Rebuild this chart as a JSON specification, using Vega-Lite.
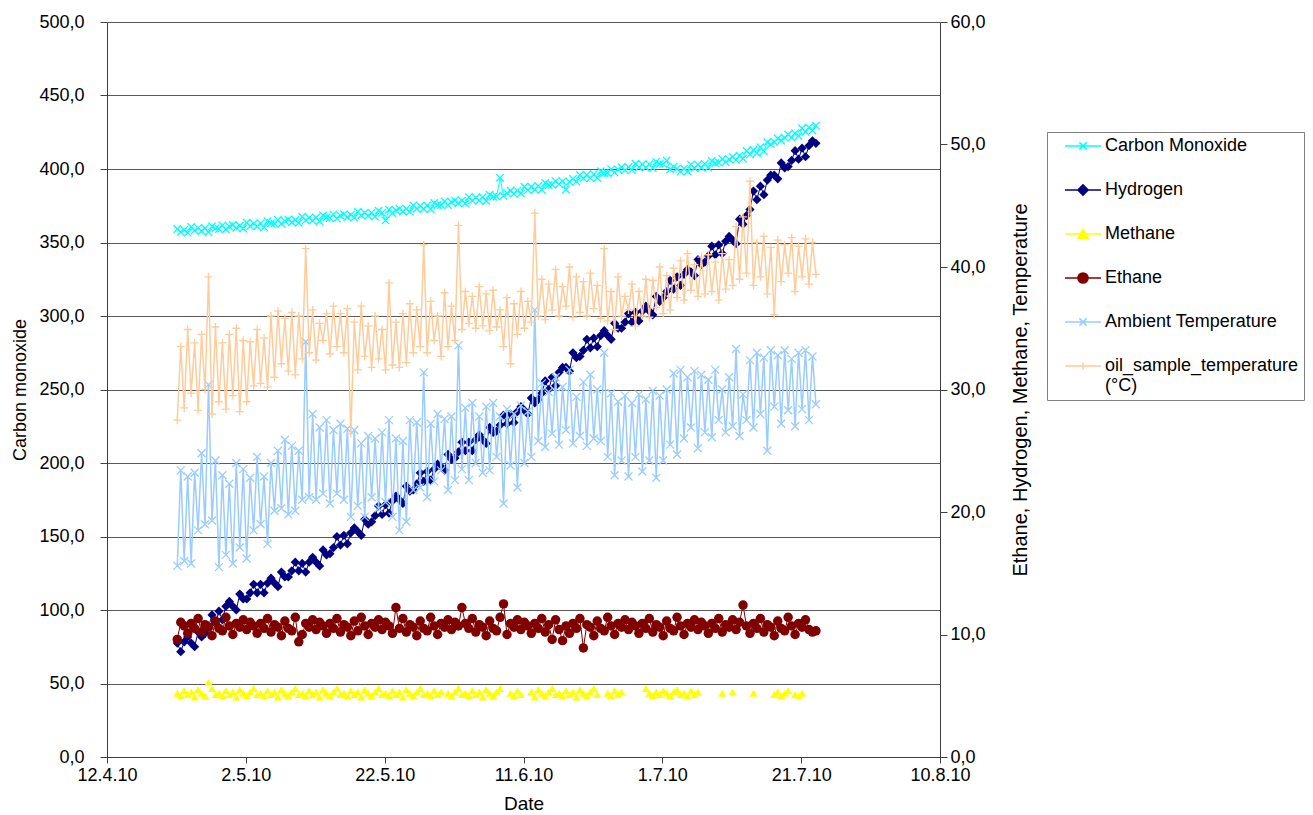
{
"$schema":"https://vega.github.io/schema/vega-lite/v6.json",
"width":833,"height":735,
"autosize":{"type":"none"},
"padding":{"left":107,"top":22,"right":373,"bottom":58},
"background":"white",
"config":{"view":{"stroke":null},"font":"Liberation Sans",
"axis":{"labelFont":"Liberation Sans","titleFont":"Liberation Sans","labelColor":"#000","titleColor":"#000","titleFontWeight":"normal","domainColor":"#404040","tickColor":"#404040"}},
"data":{"values":[
{"t":"2010-04-22T03:00","c":359.2,"h":9.3,"m":5.2,"e":9.6,"a":15.6,"o":27.5},
{"t":"2010-04-22T15:00","c":357.2,"h":8.6,"m":5.0,"e":11.0,"a":23.4,"o":33.5},
{"t":"2010-04-23T03:00","c":358.6,"h":9.4,"m":5.4,"e":10.7,"a":16.0,"o":28.5},
{"t":"2010-04-23T15:00","c":356.7,"h":9.8,"m":5.1,"e":10.1,"a":22.9,"o":34.9},
{"t":"2010-04-24T03:00","c":360.6,"h":9.3,"m":5.3,"e":10.9,"a":15.8,"o":29.7},
{"t":"2010-04-24T15:00","c":358.2,"h":9.0,"m":4.9,"e":10.5,"a":23.2,"o":33.8},
{"t":"2010-04-25T03:00","c":359.8,"h":10.2,"m":5.5,"e":11.3,"a":18.5,"o":28.3},
{"t":"2010-04-25T15:00","c":357.8,"h":9.8,"m":5.2,"e":10.2,"a":24.8,"o":34.5},
{"t":"2010-04-26T03:00","c":359.7,"h":10.1,"m":5.0,"e":10.8,"a":19.0,"o":30.0},
{"t":"2010-04-26T15:00","c":357.1,"h":10.6,"m":6.1,"e":10.6,"a":30.4,"o":39.2},
{"t":"2010-04-27T03:00","c":361.0,"h":11.6,"m":5.6,"e":9.9,"a":19.3,"o":28.0},
{"t":"2010-04-27T15:00","c":359.6,"h":10.9,"m":5.1,"e":11.1,"a":24.2,"o":35.1},
{"t":"2010-04-28T03:00","c":359.2,"h":11.9,"m":5.2,"e":10.5,"a":15.5,"o":29.0},
{"t":"2010-04-28T15:00","c":361.7,"h":11.2,"m":5.0,"e":10.3,"a":23.0,"o":33.8},
{"t":"2010-04-29T03:00","c":359.0,"h":12.3,"m":5.4,"e":11.4,"a":16.5,"o":28.4},
{"t":"2010-04-29T15:00","c":360.9,"h":12.7,"m":5.1,"e":10.7,"a":22.3,"o":34.5},
{"t":"2010-04-30T03:00","c":361.9,"h":12.3,"m":5.3,"e":10.0,"a":15.8,"o":29.5},
{"t":"2010-04-30T15:00","c":359.9,"h":12.0,"m":4.9,"e":10.9,"a":24.0,"o":35.0},
{"t":"2010-05-01T03:00","c":361.4,"h":13.3,"m":5.5,"e":10.6,"a":17.1,"o":28.2},
{"t":"2010-05-01T15:00","c":359.5,"h":12.9,"m":5.2,"e":11.2,"a":23.5,"o":34.0},
{"t":"2010-05-02T03:00","c":363.5,"h":12.9,"m":5.0,"e":10.4,"a":16.2,"o":29.0},
{"t":"2010-05-02T15:00","c":361.1,"h":13.4,"m":5.3,"e":11.0,"a":22.8,"o":33.9},
{"t":"2010-05-03T03:00","c":362.9,"h":14.1,"m":5.6,"e":10.7,"a":18.5,"o":30.3},
{"t":"2010-05-03T15:00","c":360.9,"h":13.4,"m":5.1,"e":10.1,"a":24.5,"o":34.9},
{"t":"2010-05-04T03:00","c":363.0,"h":14.1,"m":5.2,"e":10.9,"a":19.0,"o":30.5},
{"t":"2010-05-04T15:00","c":360.4,"h":13.4,"m":5.0,"e":10.5,"a":22.9,"o":34.2},
{"t":"2010-05-05T03:00","c":364.5,"h":14.2,"m":5.4,"e":11.3,"a":17.4,"o":30.2},
{"t":"2010-05-05T15:00","c":363.1,"h":14.6,"m":5.1,"e":10.2,"a":24.0,"o":36.0},
{"t":"2010-05-06T03:00","c":362.8,"h":14.2,"m":5.3,"e":10.8,"a":20.1,"o":31.0},
{"t":"2010-05-06T15:00","c":365.3,"h":13.9,"m":4.9,"e":10.6,"a":25.0,"o":36.4},
{"t":"2010-05-07T03:00","c":362.7,"h":15.1,"m":5.5,"e":9.9,"a":20.3,"o":32.1},
{"t":"2010-05-07T15:00","c":364.6,"h":14.7,"m":5.2,"e":11.1,"a":25.9,"o":35.8},
{"t":"2010-05-08T03:00","c":365.7,"h":14.7,"m":5.0,"e":10.5,"a":19.8,"o":31.5},
{"t":"2010-05-08T15:00","c":363.7,"h":15.2,"m":5.3,"e":10.3,"a":25.4,"o":36.3},
{"t":"2010-05-09T03:00","c":365.3,"h":15.9,"m":5.6,"e":11.4,"a":20.1,"o":31.2},
{"t":"2010-05-09T15:00","c":363.4,"h":15.2,"m":5.1,"e":9.4,"a":25.0,"o":36.0},
{"t":"2010-05-10T03:00","c":367.5,"h":15.8,"m":5.2,"e":10.0,"a":21.0,"o":32.5},
{"t":"2010-05-10T15:00","c":365.1,"h":15.1,"m":5.0,"e":10.9,"a":33.9,"o":41.5},
{"t":"2010-05-11T03:00","c":366.9,"h":15.9,"m":5.4,"e":10.6,"a":21.2,"o":33.0},
{"t":"2010-05-11T15:00","c":364.9,"h":16.3,"m":5.1,"e":11.2,"a":28.0,"o":36.5},
{"t":"2010-05-12T03:00","c":367.0,"h":15.9,"m":5.3,"e":10.4,"a":21.0,"o":32.4},
{"t":"2010-05-12T15:00","c":364.4,"h":15.6,"m":4.9,"e":11.0,"a":26.9,"o":35.4},
{"t":"2010-05-13T03:00","c":368.4,"h":16.9,"m":5.5,"e":10.7,"a":21.5,"o":34.0},
{"t":"2010-05-13T15:00","c":367.0,"h":16.5,"m":5.2,"e":10.1,"a":27.5,"o":36.2},
{"t":"2010-05-14T03:00","c":366.6,"h":16.6,"m":5.0,"e":10.9,"a":20.7,"o":32.9},
{"t":"2010-05-14T15:00","c":369.1,"h":17.1,"m":5.3,"e":10.5,"a":26.7,"o":36.8},
{"t":"2010-05-15T03:00","c":366.4,"h":18.0,"m":5.6,"e":11.3,"a":21.5,"o":33.5},
{"t":"2010-05-15T15:00","c":368.3,"h":17.3,"m":5.1,"e":10.2,"a":27.2,"o":36.2},
{"t":"2010-05-16T03:00","c":369.3,"h":18.1,"m":5.2,"e":10.8,"a":21.0,"o":33.0},
{"t":"2010-05-16T15:00","c":367.3,"h":17.4,"m":5.0,"e":10.6,"a":26.8,"o":36.6},
{"t":"2010-05-17T03:00","c":368.8,"h":18.3,"m":5.4,"e":9.9,"a":19.6,"o":26.4},
{"t":"2010-05-17T15:00","c":366.9,"h":18.7,"m":5.1,"e":11.1,"a":26.7,"o":35.5},
{"t":"2010-05-18T03:00","c":370.9,"h":18.4,"m":5.3,"e":10.3,"a":20.5,"o":31.6},
{"t":"2010-05-18T15:00","c":368.5,"h":18.1,"m":4.9,"e":11.4,"a":25.6,"o":36.8},
{"t":"2010-05-19T03:00","c":370.2,"h":19.4,"m":5.5,"e":10.7,"a":19.6,"o":32.7},
{"t":"2010-05-19T15:00","c":368.2,"h":19.0,"m":5.2,"e":10.0,"a":26.2,"o":35.2},
{"t":"2010-05-20T03:00","c":370.2,"h":19.2,"m":5.0,"e":10.9,"a":21.2,"o":31.8},
{"t":"2010-05-20T15:00","c":367.6,"h":19.7,"m":5.3,"e":10.6,"a":26.0,"o":36.0},
{"t":"2010-05-21T03:00","c":371.6,"h":20.5,"m":5.6,"e":11.2,"a":20.3,"o":32.5},
{"t":"2010-05-21T15:00","c":370.2,"h":19.8,"m":5.1,"e":10.4,"a":26.5,"o":34.9},
{"t":"2010-05-22T03:00","c":365.0,"h":20.6,"m":5.2,"e":11.0,"a":20.8,"o":31.6},
{"t":"2010-05-22T15:00","c":372.3,"h":19.9,"m":5.0,"e":10.7,"a":27.5,"o":38.7},
{"t":"2010-05-23T03:00","c":369.9,"h":20.9,"m":5.4,"e":10.1,"a":19.6,"o":32.0},
{"t":"2010-05-23T15:00","c":371.8,"h":21.3,"m":5.1,"e":12.2,"a":26.0,"o":35.5},
{"t":"2010-05-24T03:00","c":373.1,"h":21.0,"m":5.3,"e":10.5,"a":18.5,"o":31.8},
{"t":"2010-05-24T15:00","c":371.1,"h":20.7,"m":4.9,"e":11.3,"a":25.8,"o":36.2},
{"t":"2010-05-25T03:00","c":372.9,"h":22.1,"m":5.5,"e":10.2,"a":19.2,"o":32.2},
{"t":"2010-05-25T15:00","c":371.0,"h":21.7,"m":5.2,"e":10.8,"a":27.5,"o":37.0},
{"t":"2010-05-26T03:00","c":375.3,"h":21.8,"m":5.0,"e":10.6,"a":21.8,"o":33.0},
{"t":"2010-05-26T15:00","c":372.9,"h":22.3,"m":5.3,"e":9.9,"a":27.3,"o":36.5},
{"t":"2010-05-27T03:00","c":374.9,"h":23.2,"m":5.6,"e":11.1,"a":22.0,"o":33.5},
{"t":"2010-05-27T15:00","c":372.9,"h":22.5,"m":5.1,"e":10.5,"a":31.4,"o":41.8},
{"t":"2010-05-28T03:00","c":375.2,"h":23.3,"m":5.2,"e":10.3,"a":21.2,"o":33.0},
{"t":"2010-05-28T15:00","c":372.6,"h":22.6,"m":5.0,"e":11.4,"a":27.2,"o":37.2},
{"t":"2010-05-29T03:00","c":376.9,"h":23.5,"m":5.4,"e":10.7,"a":22.5,"o":34.0},
{"t":"2010-05-29T15:00","c":375.5,"h":23.9,"m":5.1,"e":10.0,"a":28.0,"o":36.0},
{"t":"2010-05-30T03:00","c":375.4,"h":23.7,"m":5.3,"e":10.9,"a":23.4,"o":32.7},
{"t":"2010-05-30T15:00","c":377.9,"h":23.4,"e":10.6,"a":27.6,"o":37.9},
{"t":"2010-05-31T03:00","c":375.5,"h":24.7,"m":5.2,"e":11.2,"a":21.8,"o":33.5},
{"t":"2010-05-31T15:00","c":377.4,"h":24.3,"m":5.0,"e":10.4,"a":27.8,"o":36.8},
{"t":"2010-06-01T03:00","c":378.7,"h":24.4,"m":5.3,"e":11.0,"a":22.6,"o":34.0},
{"t":"2010-06-01T15:00","c":376.7,"h":24.9,"m":5.6,"e":10.7,"a":33.6,"o":43.4},
{"t":"2010-06-02T03:00","c":378.5,"h":25.7,"m":5.1,"e":12.2,"a":23.5,"o":34.9},
{"t":"2010-06-02T15:00","c":376.6,"h":25.0,"m":5.2,"e":10.9,"a":28.5,"o":38.0},
{"t":"2010-06-03T03:00","c":380.9,"h":25.7,"m":5.0,"e":10.5,"a":22.6,"o":35.4},
{"t":"2010-06-03T15:00","c":378.5,"h":25.0,"m":5.4,"e":11.3,"a":28.9,"o":37.6},
{"t":"2010-06-04T03:00","c":380.5,"h":25.9,"m":5.1,"e":10.2,"a":24.0,"o":35.0},
{"t":"2010-06-04T15:00","c":378.5,"h":26.3,"m":5.3,"e":10.8,"a":27.8,"o":38.4},
{"t":"2010-06-05T03:00","c":380.8,"h":25.9,"m":4.9,"e":10.6,"a":23.2,"o":35.2},
{"t":"2010-06-05T15:00","c":378.2,"h":25.6,"m":5.5,"e":9.9,"a":28.6,"o":37.8},
{"t":"2010-06-06T03:00","c":382.5,"h":26.9,"m":5.2,"e":11.1,"a":23.4,"o":34.8},
{"t":"2010-06-06T15:00","c":381.1,"h":26.5,"m":5.0,"e":10.5,"a":28.9,"o":38.1},
{"t":"2010-06-07T03:00","c":381.3,"h":26.6,"m":5.3,"e":10.3,"a":24.5,"o":35.1},
{"t":"2010-06-07T15:00","c":394.0,"h":27.1,"m":5.6,"e":11.4,"a":27.8,"o":36.5},
{"t":"2010-06-08T03:00","c":381.7,"h":27.9,"e":12.5,"a":20.7,"o":33.5},
{"t":"2010-06-08T15:00","c":383.6,"h":27.2,"e":10.0,"a":28.4,"o":37.5},
{"t":"2010-06-09T03:00","c":385.2,"h":28.0,"m":5.2,"e":10.9,"a":23.8,"o":32.1},
{"t":"2010-06-09T15:00","c":383.2,"h":27.3,"m":5.0,"e":10.6,"a":28.0,"o":37.0},
{"t":"2010-06-10T03:00","c":385.3,"h":28.2,"m":5.4,"e":11.2,"a":22.0,"o":34.5},
{"t":"2010-06-10T15:00","c":383.4,"h":28.6,"m":5.1,"e":10.4,"a":28.7,"o":38.0},
{"t":"2010-06-11T03:00","c":388.0,"h":28.3,"e":11.0,"a":24.0,"o":35.0},
{"t":"2010-06-11T15:00","c":385.6,"h":28.0,"e":10.7,"a":28.2,"o":37.2},
{"t":"2010-06-12T03:00","c":387.9,"h":29.3,"m":5.3,"e":10.1,"a":24.5,"o":35.5},
{"t":"2010-06-12T15:00","c":385.9,"h":28.9,"m":4.9,"e":10.9,"a":36.5,"o":44.4},
{"t":"2010-06-13T03:00","c":388.5,"h":29.2,"m":5.5,"e":10.5,"a":25.8,"o":36.0},
{"t":"2010-06-13T15:00","c":385.9,"h":29.7,"m":5.2,"e":11.3,"a":30.5,"o":39.0},
{"t":"2010-06-14T03:00","c":390.5,"h":30.7,"m":5.0,"e":10.2,"a":25.3,"o":35.7},
{"t":"2010-06-14T15:00","c":389.1,"h":30.0,"m":5.3,"e":10.8,"a":29.8,"o":38.6},
{"t":"2010-06-15T03:00","c":389.3,"h":31.0,"m":5.6,"e":9.6,"a":26.4,"o":36.5},
{"t":"2010-06-15T15:00","c":391.8,"h":30.3,"m":5.1,"e":11.2,"a":31.0,"o":39.8},
{"t":"2010-06-16T03:00","c":389.7,"h":31.4,"m":5.2,"e":10.4,"a":25.5,"o":36.0},
{"t":"2010-06-16T15:00","c":391.6,"h":31.8,"m":5.0,"e":9.5,"a":30.2,"o":38.4},
{"t":"2010-06-17T03:00","c":386.0,"h":31.8,"m":5.4,"e":10.7,"a":26.7,"o":36.8},
{"t":"2010-06-17T15:00","c":391.2,"h":31.5,"m":5.1,"e":10.1,"a":31.6,"o":40.0},
{"t":"2010-06-18T03:00","c":393.3,"h":33.0,"m":5.3,"e":10.9,"a":25.6,"o":35.9},
{"t":"2010-06-18T15:00","c":391.4,"h":32.6,"m":4.9,"e":10.5,"a":29.4,"o":39.2},
{"t":"2010-06-19T03:00","c":396.0,"h":32.7,"m":5.5,"e":11.3,"a":26.2,"o":36.3},
{"t":"2010-06-19T15:00","c":393.6,"h":33.2,"m":5.2,"e":8.9,"a":30.6,"o":38.8},
{"t":"2010-06-20T03:00","c":395.9,"h":34.1,"m":5.0,"e":10.8,"a":25.4,"o":36.0},
{"t":"2010-06-20T15:00","c":393.9,"h":33.4,"m":5.3,"e":10.6,"a":31.2,"o":39.5},
{"t":"2010-06-21T03:00","c":396.5,"h":34.2,"m":5.6,"e":9.9,"a":26.0,"o":36.6},
{"t":"2010-06-21T15:00","c":393.9,"h":33.5,"m":5.1,"e":11.1,"a":30.0,"o":38.5},
{"t":"2010-06-22T03:00","c":398.5,"h":34.4,"e":10.5,"a":25.8,"o":35.8},
{"t":"2010-06-22T15:00","c":397.1,"h":34.8,"e":10.3,"a":33.0,"o":41.5},
{"t":"2010-06-23T03:00","c":397.3,"h":34.4,"m":5.2,"e":11.4,"a":24.5,"o":35.6},
{"t":"2010-06-23T15:00","c":399.8,"h":34.1,"m":5.0,"e":10.7,"a":29.7,"o":38.0},
{"t":"2010-06-24T03:00","c":397.7,"h":35.4,"m":5.4,"e":10.0,"a":23.0,"o":34.9},
{"t":"2010-06-24T15:00","c":399.6,"h":35.0,"m":5.1,"e":10.9,"a":29.0,"o":39.2},
{"t":"2010-06-25T03:00","c":401.2,"h":35.0,"m":5.3,"e":10.6,"a":24.2,"o":36.0},
{"t":"2010-06-25T15:00","c":399.2,"h":35.5,"e":11.2,"a":29.5,"o":37.6},
{"t":"2010-06-26T03:00","c":401.3,"h":36.2,"e":10.4,"a":22.9,"o":36.5},
{"t":"2010-06-26T15:00","c":399.4,"h":35.5,"e":11.0,"a":28.9,"o":38.6},
{"t":"2010-06-27T03:00","c":403.6,"h":36.3,"e":10.7,"a":24.5,"o":35.2},
{"t":"2010-06-27T15:00","c":401.2,"h":35.6,"e":10.1,"a":29.6,"o":38.0},
{"t":"2010-06-28T03:00","c":403.1,"h":36.4,"e":10.9,"a":23.3,"o":36.0},
{"t":"2010-06-28T15:00","c":401.1,"h":36.8,"m":5.6,"e":10.5,"a":29.2,"o":39.0},
{"t":"2010-06-29T03:00","c":403.3,"h":36.4,"m":5.2,"e":11.3,"a":24.2,"o":35.9},
{"t":"2010-06-29T15:00","c":400.7,"h":36.1,"m":5.0,"e":10.2,"a":29.9,"o":38.9},
{"t":"2010-06-30T03:00","c":404.9,"h":37.6,"m":5.3,"e":10.8,"a":22.8,"o":36.7},
{"t":"2010-06-30T15:00","c":403.5,"h":37.2,"m":5.1,"e":10.6,"a":29.5,"o":40.0},
{"t":"2010-07-01T03:00","c":403.3,"h":37.5,"m":5.4,"e":9.9,"a":24.2,"o":36.2},
{"t":"2010-07-01T15:00","c":405.8,"h":38.0,"m":5.2,"e":11.1,"a":30.0,"o":39.3},
{"t":"2010-07-02T03:00","c":399.7,"h":38.9,"m":5.0,"e":10.5,"a":25.5,"o":36.5},
{"t":"2010-07-02T15:00","c":401.6,"h":38.2,"m":5.3,"e":10.3,"a":31.3,"o":39.9},
{"t":"2010-07-03T03:00","c":400.2,"h":39.2,"m":5.5,"e":11.4,"a":24.7,"o":37.5},
{"t":"2010-07-03T15:00","c":398.2,"h":38.5,"m":5.1,"e":10.7,"a":31.6,"o":40.5},
{"t":"2010-07-04T03:00","c":400.3,"h":39.4,"m":5.2,"e":10.0,"a":26.0,"o":37.3},
{"t":"2010-07-04T15:00","c":398.4,"h":39.8,"m":5.0,"e":10.9,"a":31.0,"o":41.1},
{"t":"2010-07-05T03:00","c":403.0,"h":39.6,"m":5.4,"e":10.6,"a":26.9,"o":38.1},
{"t":"2010-07-05T15:00","c":400.6,"h":39.3,"m":5.1,"e":11.2,"a":31.5,"o":40.2},
{"t":"2010-07-06T03:00","c":402.9,"h":40.6,"m":5.3,"e":10.4,"a":25.2,"o":37.6},
{"t":"2010-07-06T15:00","c":400.9,"h":40.2,"e":11.0,"a":31.2,"o":40.8},
{"t":"2010-07-07T03:00","c":403.5,"h":40.4,"e":10.7,"a":26.5,"o":37.8},
{"t":"2010-07-07T15:00","c":400.9,"h":40.9,"e":10.1,"a":30.8,"o":41.0},
{"t":"2010-07-08T03:00","c":405.5,"h":41.7,"e":10.9,"a":26.1,"o":38.0},
{"t":"2010-07-08T15:00","c":404.1,"h":41.0,"e":10.5,"a":31.6,"o":40.4},
{"t":"2010-07-09T03:00","c":404.3,"h":41.8,"e":11.3,"a":27.5,"o":37.3},
{"t":"2010-07-09T15:00","c":406.8,"h":41.1,"m":5.2,"e":10.2,"a":30.0,"o":41.1},
{"t":"2010-07-10T03:00","c":404.7,"h":42.1,"e":10.8,"a":26.5,"o":38.2},
{"t":"2010-07-10T15:00","c":406.6,"h":42.5,"e":10.6,"a":31.0,"o":40.6},
{"t":"2010-07-11T03:00","c":408.2,"h":42.2,"m":5.3,"e":11.2,"a":27.0,"o":38.5},
{"t":"2010-07-11T15:00","c":406.2,"h":41.9,"e":10.4,"a":33.3,"o":43.3},
{"t":"2010-07-12T03:00","c":409.0,"h":43.9,"e":11.0,"a":26.2,"o":39.0},
{"t":"2010-07-12T15:00","c":407.1,"h":43.5,"e":12.4,"a":29.6,"o":44.1},
{"t":"2010-07-13T03:00","c":412.3,"h":44.2,"e":10.7,"a":27.5,"o":39.5},
{"t":"2010-07-13T15:00","c":409.9,"h":44.7,"e":10.1,"a":32.4,"o":47.0},
{"t":"2010-07-14T03:00","c":412.9,"h":46.2,"m":5.2,"e":10.9,"a":26.9,"o":38.5},
{"t":"2010-07-14T15:00","c":410.9,"h":45.5,"e":10.5,"a":33.0,"o":42.0},
{"t":"2010-07-15T03:00","c":414.8,"h":46.6,"e":11.3,"a":28.0,"o":39.2},
{"t":"2010-07-15T15:00","c":412.2,"h":45.9,"e":10.2,"a":32.6,"o":42.5},
{"t":"2010-07-16T03:00","c":418.2,"h":47.1,"e":10.8,"a":25.0,"o":37.8},
{"t":"2010-07-16T15:00","c":416.8,"h":47.5,"e":10.6,"a":33.2,"o":41.6},
{"t":"2010-07-17T03:00","c":418.3,"h":47.5,"m":5.1,"e":9.9,"a":28.6,"o":36.1},
{"t":"2010-07-17T15:00","c":420.8,"h":47.2,"m":5.3,"e":11.1,"a":32.8,"o":42.2},
{"t":"2010-07-18T03:00","c":419.4,"h":48.5,"m":5.0,"e":10.5,"a":27.2,"o":38.8},
{"t":"2010-07-18T15:00","c":421.3,"h":48.1,"m":5.2,"e":10.3,"a":33.2,"o":41.8},
{"t":"2010-07-19T03:00","c":423.5,"h":48.2,"m":5.4,"e":11.4,"a":28.3,"o":39.5},
{"t":"2010-07-19T15:00","c":421.5,"h":48.7,"e":10.7,"a":32.5,"o":42.4},
{"t":"2010-07-20T03:00","c":424.3,"h":49.5,"m":5.1,"e":10.0,"a":27.0,"o":38.0},
{"t":"2010-07-20T15:00","c":422.4,"h":48.8,"m":5.0,"e":10.9,"a":33.0,"o":41.7},
{"t":"2010-07-21T03:00","c":427.7,"h":49.7,"m":5.2,"e":10.6,"a":28.4,"o":39.2},
{"t":"2010-07-21T15:00","c":425.3,"h":49.0,"e":11.2,"a":33.2,"o":42.3},
{"t":"2010-07-22T03:00","c":428.2,"h":49.9,"e":10.4,"a":27.5,"o":38.6},
{"t":"2010-07-22T15:00","c":426.2,"h":50.3,"e":10.2,"a":32.7,"o":42.0},
{"t":"2010-07-23T03:00","c":429.5,"h":50.1,"e":10.3,"a":28.8,"o":39.4}
]},
"encoding":{"x":{"field":"t","type":"temporal",
"scale":{"domain":[{"year":2010,"month":4,"date":12},{"year":2010,"month":8,"date":10}]},
"axis":{"title":"Date","values":[{"year":2010,"month":4,"date":12},{"year":2010,"month":5,"date":2},{"year":2010,"month":5,"date":22},{"year":2010,"month":6,"date":11},{"year":2010,"month":7,"date":1},{"year":2010,"month":7,"date":21},{"year":2010,"month":8,"date":10}],
"format":"%-d.%-m.%y","grid":false,"labelFontSize":18,"titleFontSize":19,"tickSize":6,"labelPadding":3,"titleY":46,"titleBaseline":"middle","labelFlush":false,"labelOverlap":false}}},
"layer":[
{"encoding":{"y":{"field":"c","type":"quantitative","scale":{"domain":[0,500]},
"axis":{"title":"Carbon monoxide","values":[0,50,100,150,200,250,300,350,400,450,500],"labelExpr":"replace(format(datum.value,'.1f'),'.',',')","labelFontSize":18,"tickSize":7,"labelPadding":16,"grid":true,"gridColor":"#5a5a5a","titleFontSize":18,"titleAngle":270,"titleX":-87,"titleY":367.5,"titleAlign":"center","titleBaseline":"middle"}}},
"layer":[
{"mark":{"type":"line","strokeWidth":1},"encoding":{"color":{"datum":"Carbon Monoxide","scale":{"domain":["Carbon Monoxide","Hydrogen","Methane","Ethane","Ambient Temperature","oil_sample_temperature (°C)"],"range":["#00FFFF","#000080","#FFFF00","#800000","#99CCFF","#FFCC99"]},
"legend":{"title":null,"orient":"none","legendX":940,"legendY":110,"strokeColor":"#808080","fillColor":"white","padding":5,"labelFont":"Liberation Sans","labelFontSize":18,"labelColor":"#000","symbolSize":144,"symbolOffset":22,"labelOffset":13,"rowPadding":26,"labelLimit":400,"symbolStrokeWidth":1.5,
"labelExpr":"datum.label==='oil_sample_temperature (°C)'?['oil_sample_temperature','(°C)']:datum.label",
"encode":{"symbols":{"update":{"shape":{"signal":"datum.value==='Carbon Monoxide'||datum.value==='Ambient Temperature'?'M-3,0H3M-0.6,-0.6L0.6,0.6M-0.6,0.6L0.6,-0.6':datum.value==='Hydrogen'?'M-3,0H3M-0.85,0L0,-0.85L0.85,0L0,0.85Z':datum.value==='Methane'?'M-3,0H3M-0.85,0.7L0,-0.8L0.85,0.7Z':datum.value==='Ethane'?'M-3,0H3M-0.85,0A0.85,0.85,0,1,1,0.85,0A0.85,0.85,0,1,1,-0.85,0Z':'M-3,0H3M0,-0.6V0.6'"},"fill":{"scale":"color","field":"value"},"stroke":{"scale":"color","field":"value"},"strokeWidth":{"value":1.5},"opacity":{"value":1}}}}}}}},
{"mark":{"type":"point","shape":"M-1,-1L1,1M-1,1L1,-1","filled":false,"strokeWidth":1.3,"size":55,"opacity":1},"encoding":{"color":{"datum":"Carbon Monoxide"}}}
]},
{"transform":[{"fold":["h","m","e","a","o"],"as":["k","v"]}],
"encoding":{"y":{"field":"v","type":"quantitative","scale":{"domain":[0,60]},
"axis":{"orient":"right","title":"Ethane, Hydrogen, Methane, Temperature","values":[0,10,20,30,40,50,60],"labelExpr":"replace(format(datum.value,'.1f'),'.',',')","labelFontSize":18,"tickSize":7,"labelPadding":3,"grid":false,"titleFontSize":20,"titleAngle":270,"titleX":80,"titleY":367.5,"titleAlign":"center","titleBaseline":"middle"}}},
"layer":[
{"transform":[{"filter":"datum.k==='h'"}],"mark":{"type":"line","strokeWidth":1},"encoding":{"color":{"datum":"Hydrogen"}}},
{"transform":[{"filter":"datum.k==='h'"}],"mark":{"type":"point","shape":"diamond","filled":true,"size":85,"opacity":1},"encoding":{"color":{"datum":"Hydrogen"}}},
{"transform":[{"filter":"datum.k==='m'"}],"mark":{"type":"point","shape":"triangle-up","filled":true,"size":65,"opacity":1},"encoding":{"color":{"datum":"Methane"}}},
{"transform":[{"filter":"datum.k==='e'"}],"mark":{"type":"line","strokeWidth":1},"encoding":{"color":{"datum":"Ethane"}}},
{"transform":[{"filter":"datum.k==='e'"}],"mark":{"type":"point","shape":"circle","filled":true,"size":90,"opacity":1},"encoding":{"color":{"datum":"Ethane"}}},
{"transform":[{"filter":"datum.k==='a'"}],"mark":{"type":"line","strokeWidth":1.5},"encoding":{"color":{"datum":"Ambient Temperature"}}},
{"transform":[{"filter":"datum.k==='a'"}],"mark":{"type":"point","shape":"M-1,-1L1,1M-1,1L1,-1","filled":false,"strokeWidth":1.3,"size":64,"opacity":1},"encoding":{"color":{"datum":"Ambient Temperature"}}},
{"transform":[{"filter":"datum.k==='o'"}],"mark":{"type":"line","strokeWidth":1.5},"encoding":{"color":{"datum":"oil_sample_temperature (°C)"}}},
{"transform":[{"filter":"datum.k==='o'"}],"mark":{"type":"point","shape":"M-1,0L1,0M0,-1L0,1","filled":false,"strokeWidth":1.3,"size":64,"opacity":1},"encoding":{"color":{"datum":"oil_sample_temperature (°C)"}}}
]}
],
"resolve":{"scale":{"y":"independent"}}
}
